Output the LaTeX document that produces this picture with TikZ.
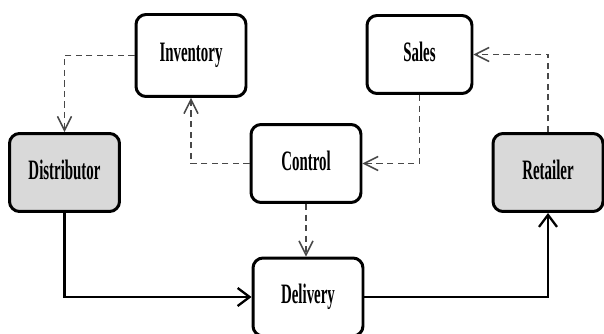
\documentclass[tikz,border=0pt]{standalone}
\usepackage{fontspec}
\setmainfont{Liberation Serif}
\usetikzlibrary{arrows.meta, positioning}
\definecolor{boxgray}{HTML}{D9D9D9}
\definecolor{linegray}{HTML}{484848}
\tikzset{
	block/.style  = {shape=rectangle, rounded corners=0.2cm,
		draw, line width=1.7pt, fill=white, align=center,
		minimum width=2.2cm, minimum height=1.56cm,
		font=\bfseries\fontsize{16}{18}\selectfont},
	actor/.style  = {block, fill=boxgray},
	info/.style   = {draw=linegray, line width=0.85pt, dash pattern=on 3.5pt off 2.5pt,
		-{Straight Barb[length=0.28cm, width=0.28cm]}},
	flow/.style   = {draw, line width=1.3pt,
		-{Straight Barb[length=0.24cm, width=0.36cm]}},
}
\newcommand{\lbl}[1]{\raisebox{0.1cm}{\scalebox{0.53}[1]{#1}}}

\begin{document}
\begin{tikzpicture}[x=0.02cm, y=-0.02cm]
\useasboundingbox (0,0) rectangle (604,334);

% actors at both ends
\node [actor] (distributor) at (64.5,172.5) {\lbl{Distributor}};
\node [actor] (retailer)    at (548,172.5)  {\lbl{Retailer}};

% information boxes
\node [block, minimum height=1.64cm] (inventory) at (191,55.5) {\lbl{Inventory}};
\node [block, minimum width=2.1cm]   (sales)     at (419.5,54.5) {\lbl{Sales}};
\node [block] (control)  at (306,163.5) {\lbl{Control}};
\node [block] (delivery) at (308,297)   {\lbl{Delivery}};

% information flow
\path [info] (inventory.west) -| (distributor.north);
\path [info] (control.west) -| (inventory.south);
\path [info] (sales.south) |- (control.east);
\path [info] (retailer.north) |- (sales.east);
\path [info] (control.south) -- (control.south |- delivery.north);

% goods flow
\path [flow] (distributor.south) |- (delivery.west);
\path [flow] (delivery.east) -| (retailer.south);
\end{tikzpicture}
\end{document}
